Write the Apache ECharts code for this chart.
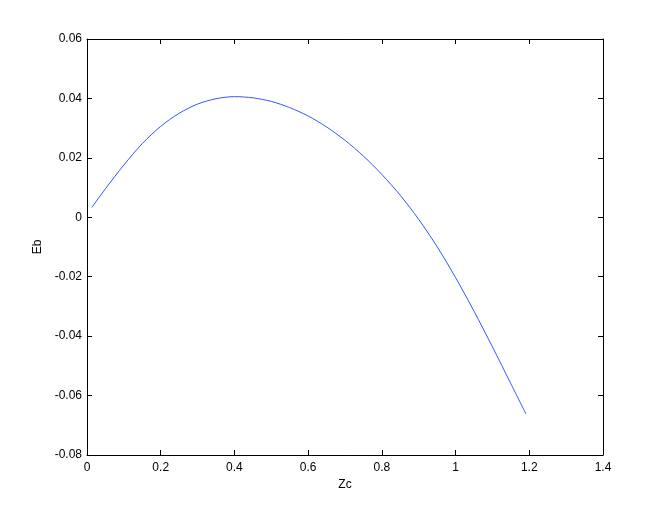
<!DOCTYPE html>
<html>
<head>
<meta charset="utf-8">
<script src="https://cdn.jsdelivr.net/npm/echarts@6/dist/echarts.min.js"></script>
<style>html,body{margin:0;padding:0;background:#fff}#c{width:666px;height:513px}</style>
</head>
<body>
<div id="c"></div>
<script>
var zc = [0.013,0.05,0.1,0.15,0.2,0.25,0.3,0.35,0.4,0.45,0.5,0.55,0.6,0.65,0.7,0.75,0.8,0.85,0.9,0.95,1.0,1.05,1.1,1.15,1.191];
var eb = [0.0033,0.0096,0.0176,0.0248,0.0306,0.0350,0.0381,0.0399,0.0406,0.0402,0.0390,0.0369,0.0341,0.0304,0.0259,0.0206,0.0144,0.0074,-0.0007,-0.0099,-0.0203,-0.0316,-0.0436,-0.0560,-0.0662];
var xTicks = {min:0, max:1.4, interval:0.2};
var yTicks = {min:-0.08, max:0.06, interval:0.02};

var font = 'Liberation Sans, Arial, Helvetica, sans-serif';
var chart = echarts.init(document.getElementById('c'), null, {renderer:'canvas'});
var pts = zc.map(function(x,i){return [x, eb[i]];});
function fmt(v){ return Math.abs(v) < 1e-9 ? '0' : String(+v.toFixed(2)); }
var common = {
  axisLine:{show:true, onZero:false, lineStyle:{color:'#000', width:1}},
  axisTick:{show:true, inside:true, length:5, lineStyle:{color:'#000', width:1}},
  splitLine:{show:false}
};
chart.setOption({
  animation:false,
  grid:{left:87, right:63, top:39, bottom:58, containLabel:false},
  xAxis:[
    Object.assign({type:'value', position:'bottom', min:xTicks.min, max:xTicks.max, interval:xTicks.interval,
      name:'Zc', nameLocation:'middle', nameGap:24,
      nameTextStyle:{color:'#000', fontSize:12, fontFamily:font},
      axisLabel:{color:'#000', fontSize:12, fontFamily:font, margin:7, formatter:function(v){return fmt(v);}}}, common),
    Object.assign({type:'value', position:'top', min:xTicks.min, max:xTicks.max, interval:xTicks.interval,
      axisLabel:{show:false}}, common)
  ],
  yAxis:[
    Object.assign({type:'value', position:'left', min:yTicks.min, max:yTicks.max, interval:yTicks.interval,
      name:'Eb', nameLocation:'middle', nameGap:43, nameRotate:90,
      nameTextStyle:{color:'#000', fontSize:12, fontFamily:font},
      axisLabel:{color:'#000', fontSize:12, fontFamily:font, margin:5, padding:[0,0,4,0], formatter:function(v){return fmt(v);}}}, common),
    Object.assign({type:'value', position:'right', min:yTicks.min, max:yTicks.max, interval:yTicks.interval,
      axisLabel:{show:false}}, common)
  ],
  series:[{
    type:'line', xAxisIndex:0, yAxisIndex:0, data:pts, smooth:0.3, showSymbol:false,
    lineStyle:{color:'#3355ff', width:1}
  }]
});
</script>
</body>
</html>
